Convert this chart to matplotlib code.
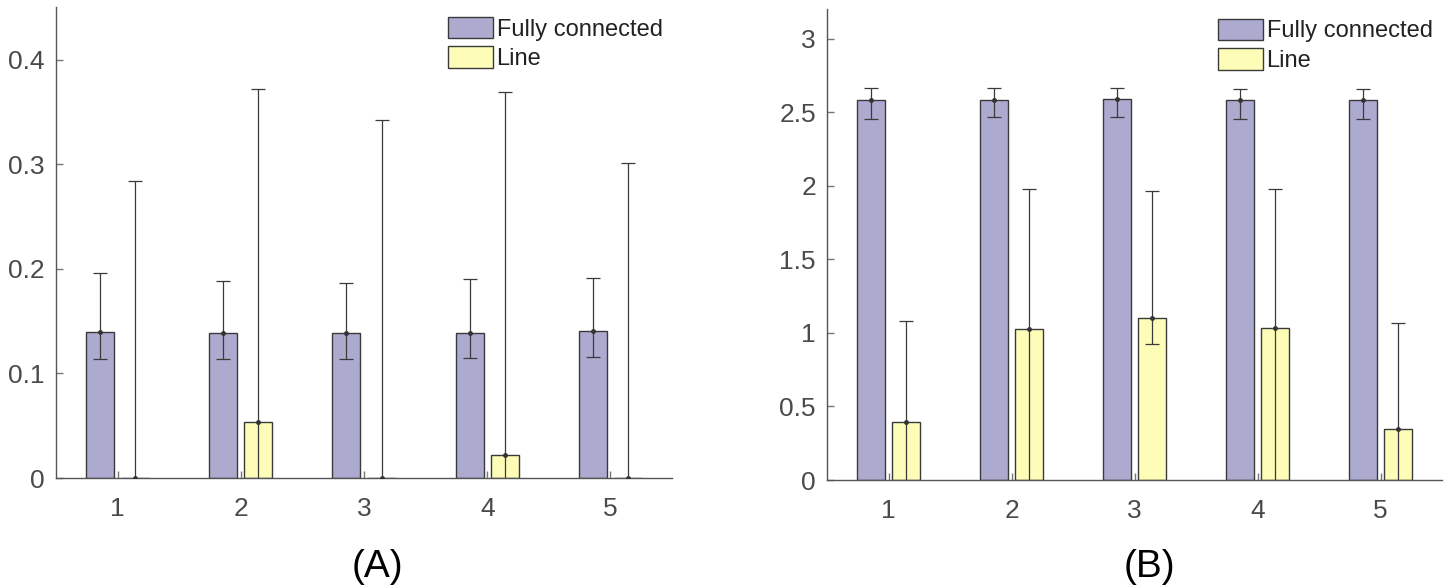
import matplotlib
matplotlib.use("Agg")
import matplotlib.pyplot as plt
import numpy as np
from matplotlib.patches import Patch

plt.rcParams['font.family'] = ['Liberation Sans', 'DejaVu Sans']

groups = [1, 2, 3, 4, 5]
tick_labels = ['1', '2', '3', '4', '5']
series_names = ['Fully connected', 'Line']

# Panel A
a_fc = [0.1395, 0.1387, 0.1387, 0.1390, 0.1405]
a_fc_lo = [0.1137, 0.1137, 0.1137, 0.1151, 0.1162]
a_fc_hi = [0.1965, 0.1886, 0.1868, 0.1904, 0.1915]
a_line = [0.0, 0.0531, 0.0, 0.0216, 0.0]
a_line_lo = [-0.28, -0.27, -0.34, -0.33, -0.30]
a_line_hi = [0.284, 0.3725, 0.3427, 0.3696, 0.3008]

# Panel B
b_fc = [2.587, 2.587, 2.590, 2.587, 2.585]
b_fc_lo = [2.453, 2.465, 2.465, 2.453, 2.453]
b_fc_hi = [2.664, 2.664, 2.667, 2.662, 2.656]
b_line = [0.395, 1.024, 1.100, 1.034, 0.346]
b_line_lo = [-0.29, -0.10, 0.924, -0.10, -0.38]
b_line_hi = [1.080, 1.981, 1.964, 1.981, 1.070]

panel_labels = ['(A)', '(B)']

FC_COLOR = '#ADAAD0'
LINE_COLOR = '#FDFDB8'
EDGE = '#3a3a3a'
AX_COLOR = '#4a4a4a'

W, H = 1450, 586
fig = plt.figure(figsize=(W / 100, H / 100), dpi=100)

def pos(l, r, b, t):
    return [l / W, 1 - b / H, (r - l) / W, (b - t) / H]

ax_a = fig.add_axes(pos(56, 672, 478, 7.5))
ax_b = fig.add_axes(pos(827, 1442, 480, 9.4))

off = 0.1428
bw = 0.2286

def draw(ax, fc, fclo, fchi, ln, lnlo, lnhi, ylim, yticks, yticklabels):
    x = np.array(groups, dtype=float)
    ax.bar(x - off, fc, bw, color=FC_COLOR, edgecolor=EDGE, linewidth=1.0, zorder=2)
    ax.bar(x + off, ln, bw, color=LINE_COLOR, edgecolor=EDGE, linewidth=1.0, zorder=2)
    fc = np.array(fc); ln = np.array(ln)
    ax.errorbar(x - off, fc, yerr=[fc - np.array(fclo), np.array(fchi) - fc],
                fmt='o', ms=2.5, color='#333333', ecolor='#3a3a3a', elinewidth=0.9,
                capsize=5, capthick=0.9, zorder=3)
    ax.errorbar(x + off, ln, yerr=[ln - np.array(lnlo), np.array(lnhi) - ln],
                fmt='o', ms=2.5, color='#333333', ecolor='#3a3a3a', elinewidth=0.9,
                capsize=5, capthick=0.9, zorder=3)
    ax.set_xlim(0.5, 5.5)
    ax.set_ylim(*ylim)
    ax.set_xticks(groups)
    ax.set_xticklabels(tick_labels)
    ax.set_yticks(yticks)
    ax.set_yticklabels(yticklabels)
    for s in ['top', 'right']:
        ax.spines[s].set_visible(False)
    for s in ['left', 'bottom']:
        ax.spines[s].set_color('#555555')
        ax.spines[s].set_linewidth(1.0)
    ax.tick_params(direction='in', length=5, width=1.0, color='#777777',
                   labelsize=19, labelcolor=AX_COLOR)
    ax.tick_params(axis='x', pad=14)
    ax.tick_params(axis='y', pad=8)
    ax.set_facecolor('white')
    handles = [Patch(facecolor=FC_COLOR, edgecolor=EDGE), Patch(facecolor=LINE_COLOR, edgecolor=EDGE)]
    ax.legend(handles, series_names, loc='upper right', frameon=False, fontsize=17,
              handlelength=1.9, handleheight=1.0, handletextpad=0.15, labelspacing=0.25,
              borderaxespad=0.0, bbox_to_anchor=(1.0, 1.0), labelcolor='#222222')

draw(ax_a, a_fc, a_fc_lo, a_fc_hi, a_line, a_line_lo, a_line_hi, (0, 0.45),
     [0, 0.1, 0.2, 0.3, 0.4], ['0', '0.1', '0.2', '0.3', '0.4'])
draw(ax_b, b_fc, b_fc_lo, b_fc_hi, b_line, b_line_lo, b_line_hi, (0, 3.2),
     [0, 0.5, 1, 1.5, 2, 2.5, 3], ['0', '0.5', '1', '1.5', '2', '2.5', '3'])

fig.text(377 / W, 1 - 577 / H, panel_labels[0], fontsize=28, ha='center', va='baseline', color='black')
fig.text(1149 / W, 1 - 577 / H, panel_labels[1], fontsize=28, ha='center', va='baseline', color='black')

fig.savefig('out.png', dpi=100, facecolor='white')
